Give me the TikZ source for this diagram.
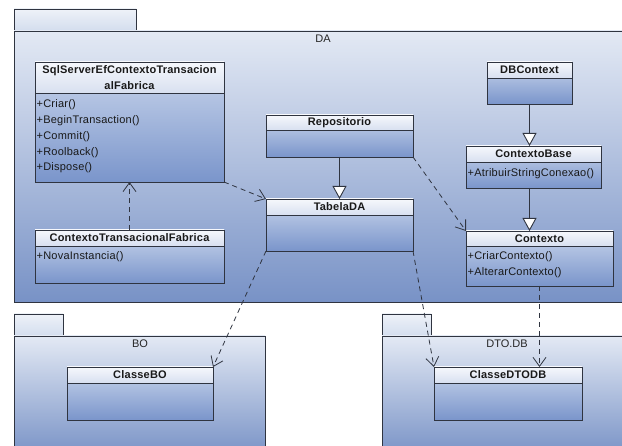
\documentclass[tikz,border=0pt]{standalone}
\usepackage{fontspec}
\setmainfont{Liberation Sans}
\newfontfamily\titlefont[LetterSpace=2]{Liberation Sans}
\newfontfamily\methfont[LetterSpace=2]{Liberation Sans}
\usetikzlibrary{arrows.meta,calc}

\definecolor{linec}{HTML}{2F3440}
\definecolor{pkgtop}{HTML}{E3E9F4}
\definecolor{pkgbot}{HTML}{7892C6}
\definecolor{tabtop}{HTML}{EEF2F8}
\definecolor{tabbot}{HTML}{D3DDEE}
\definecolor{headtop}{HTML}{F6F8FC}
\definecolor{headbot}{HTML}{D8E0F0}
\definecolor{comptop}{HTML}{CAD6EC}
\definecolor{compbot}{HTML}{7A95CB}

\tikzset{
  box/.style={rectangle, inner sep=0pt, outer sep=0pt, line width=0.9pt, draw=linec},
  pkgbody/.style={box, top color=pkgtop, bottom color=pkgbot},
  pkgtab/.style={box, top color=tabtop, bottom color=tabbot},
  clsbody/.style={box, top color=comptop, bottom color=compbot},
  clshead/.style={box, top color=headtop, bottom color=headbot,
    font=\fontsize{11}{16}\titlefont\bfseries, align=center, text=black!90},
  pkglabel/.style={font=\fontsize{11}{12}\selectfont, text=black!85},
  meth/.style={anchor=base west, inner sep=0pt,
    font=\fontsize{11}{12}\methfont, text=black!90},
  dep/.style={draw=linec, line width=0.8pt, dash pattern=on 5pt off 4pt,
    -{Straight Barb[length=9pt,width=13pt,line width=0.8pt]}},
  inherit/.style={draw=linec, line width=0.9pt,
    -{Triangle[length=13pt,width=14pt,fill=white,line width=0.9pt]}},
}

% #1 name, #2 x, #3 y, #4 width, #5 height, #6 header height, #7 title
\newcommand\umlclass[7]{%
  \node[clsbody, anchor=north west, minimum width=#4pt, minimum height=#5pt] (#1) at (#2,#3) {};
  \node[clshead, anchor=north west, minimum width=#4pt, minimum height=#6pt] (#1-h) at (#2,#3) {#7};
}

\begin{document}
\begin{tikzpicture}[x=1pt, y=-1pt]
\useasboundingbox (0,0) rectangle (622,446);
\clip (0,0) rectangle (622,446);
\fill[white] (0,0) rectangle (622,446);

% packages
\node[pkgtab, anchor=north west, minimum width=122pt, minimum height=22pt] (da-tab) at (14,9) {};
\node[pkgbody, anchor=north west, minimum width=616pt, minimum height=271pt] (da) at (14,31) {};
\node[pkglabel] (da-l) at (323,39) {DA};

\node[pkgtab, anchor=north west, minimum width=49pt, minimum height=22pt] (bo-tab) at (14,314) {};
\node[pkgbody, anchor=north west, minimum width=251pt, minimum height=120pt] (bo) at (14,336) {};
\node[pkglabel] (bo-l) at (140,344) {BO};

\node[pkgtab, anchor=north west, minimum width=49pt, minimum height=22pt] (dto-tab) at (382,314) {};
\node[pkgbody, anchor=north west, minimum width=250pt, minimum height=120pt] (dto) at (382,336) {};
\node[pkglabel] (dto-l) at (507,344) {DTO.DB};

% classes
\umlclass{sql}{35}{62}{189}{120}{31}{SqlServerEfContextoTransacion\\alFabrica}
\node[meth] (sql-m1) at ($(sql-h.south west)+(1.5,15)$) {+Criar()};
\node[meth] (sql-m2) at ($(sql-m1.base west)+(0,15.7)$) {+BeginTransaction()};
\node[meth] (sql-m3) at ($(sql-m2.base west)+(0,15.7)$) {+Commit()};
\node[meth] (sql-m4) at ($(sql-m3.base west)+(0,15.7)$) {+Roolback()};
\node[meth] (sql-m5) at ($(sql-m4.base west)+(0,15.7)$) {+Dispose()};

\umlclass{ctf}{35}{230}{189}{53}{16}{ContextoTransacionalFabrica}
\node[meth] (ctf-m1) at ($(ctf-h.south west)+(1.5,14)$) {+NovaInstancia()};

\umlclass{rep}{266}{115}{147}{42}{15}{Repositorio}
\umlclass{tab}{266}{199}{147}{52}{16}{TabelaDA}
\umlclass{dbc}{487}{62}{85}{42}{16}{DBContext}

\umlclass{cb}{466}{146}{135}{42}{16}{ContextoBase}
\node[meth] (cb-m1) at ($(cb-h.south west)+(1.5,15)$) {+AtribuirStringConexao()};

\umlclass{ctx}{466}{231}{147}{55}{15}{Contexto}
\node[meth] (ctx-m1) at ($(ctx-h.south west)+(1.5,14)$) {+CriarContexto()};
\node[meth] (ctx-m2) at ($(ctx-m1.base west)+(0,15.5)$) {+AlterarContexto()};

\umlclass{clbo}{67}{367}{146}{53}{16}{ClasseBO}
\umlclass{cldto}{434}{367}{148}{53}{16}{ClasseDTODB}

% generalizations
\draw[inherit] (rep.south) -- (tab.north);
\draw[inherit] (dbc.south) -- (dbc.south |- cb.north);
\draw[inherit] (dbc.south |- cb.south) -- (dbc.south |- ctx.north);

% dependencies
\draw[dep] (ctf.north) -- (sql.south);
\draw[dep] (sql.south east) -- (tab.north west);
\draw[dep] (rep.south east) -- (ctx.north west);
\draw[dep] (tab.south west) -- (clbo.north east);
\draw[dep] (tab.south east) -- (cldto.north west);
\draw[dep] (ctx.south) -- (ctx.south |- cldto.north);
\end{tikzpicture}
\end{document}
